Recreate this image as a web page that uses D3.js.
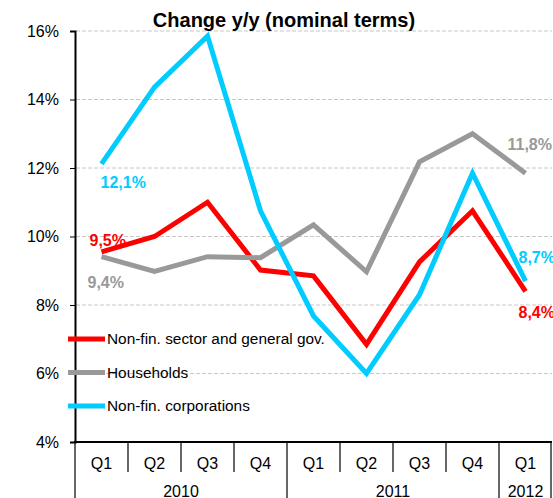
<!DOCTYPE html>
<html>
<head>
<meta charset="utf-8">
<script src="https://cdn.jsdelivr.net/npm/d3@7"></script>
<style>
  body { margin: 0; background: #fff; }
  text { font-family: "Liberation Sans", Arial, sans-serif; }
</style>
</head>
<body>
<div id="chart"></div>
<script>
// data
let quarters = ["Q1", "Q2", "Q3", "Q4", "Q1", "Q2", "Q3", "Q4", "Q1"];
let years = [
    {year: "2010", from: 0, to: 4},
    {year: "2011", from: 4, to: 8},
    {year: "2012", from: 8, to: 9}
];
let nonFinSector = [9.55, 10.0, 11.0, 9.02, 8.85, 6.85, 9.26, 10.75, 8.4];
let households = [9.41, 8.98, 9.41, 9.38, 10.34, 8.97, 12.18, 13.0, 11.85];
let corporations = [12.12, 14.36, 15.85, 10.75, 7.68, 6.0, 8.3, 11.85, 8.7];
let yTicks = [4, 6, 8, 10, 12, 14, 16];

let series = [
    {name: "Non-fin. sector and general gov.", values: nonFinSector, color: "#ff0000",
     labels: [{i: 0, text: "9,5%", dx: -12, dy: -12}, {i: 8, text: "8,4%", dx: -7, dy: 21}]},
    {name: "Households", values: households, color: "#999999",
     labels: [{i: 0, text: "9,4%", dx: -14, dy: 26}, {i: 8, text: "11,8%", dx: -18, dy: -29}]},
    {name: "Non-fin. corporations", values: corporations, color: "#00ccff",
     labels: [{i: 0, text: "12,1%", dx: -1, dy: 19}, {i: 8, text: "8,7%", dx: -7, dy: -24}]}
];

let svgWidth = 553;
let svgHeight = 498;

let svg = d3.select("#chart")
    .append("svg")
    .attr("width", svgWidth)
    .attr("height", svgHeight);

let x = d3.scaleBand()
    .domain(d3.range(quarters.length))
    .range([75, 552])
    .padding(0);

let y = d3.scaleLinear()
    .domain([4, 16])
    .range([442, 31]);

// gridlines
svg.append("g")
    .selectAll("line")
    .data(yTicks.filter(d => d > 4))
    .enter()
    .append("line")
    .attr("x1", 76)
    .attr("x2", 552)
    .attr("y1", d => y(d))
    .attr("y2", d => y(d))
    .attr("stroke", "#c8c8c8")
    .attr("stroke-dasharray", "4,2")
    .attr("stroke-width", 1);

// y axis
let yAxis = d3.axisLeft(y)
    .tickValues(yTicks)
    .tickSize(5)
    .tickPadding(11)
    .tickFormat(d => d + "%");

let yG = svg.append("g")
    .attr("transform", "translate(75,0)")
    .call(yAxis);
yG.select(".domain").attr("stroke", "#000").attr("stroke-width", 2);
yG.selectAll(".tick line").attr("stroke", "#000");
yG.selectAll(".tick text")
    .attr("font-size", "16px")
    .attr("fill", "#000")
    .attr("font-family", "Liberation Sans, Arial, sans-serif");

// x axis baseline
svg.append("line")
    .attr("x1", 74)
    .attr("x2", 552)
    .attr("y1", y(4))
    .attr("y2", y(4))
    .attr("stroke", "#000")
    .attr("stroke-width", 2);

// quarter dividers
svg.append("g")
    .selectAll("line")
    .data(d3.range(quarters.length + 1))
    .enter()
    .append("line")
    .attr("x1", d => d < quarters.length ? x(d) : x.range()[1] - 1)
    .attr("x2", d => d < quarters.length ? x(d) : x.range()[1] - 1)
    .attr("y1", y(4))
    .attr("y2", d => years.some(yr => yr.from === d || yr.to === d) ? 498 : 472)
    .attr("stroke", "#000")
    .attr("stroke-width", 1.2);

svg.append("g")
    .selectAll("text")
    .data(quarters)
    .enter()
    .append("text")
    .attr("x", (d, i) => x(i) + x.bandwidth() / 2)
    .attr("y", 463)
    .attr("dy", "0.35em")
    .attr("text-anchor", "middle")
    .attr("font-size", "16px")
    .text(d => d);

svg.append("g")
    .selectAll("text")
    .data(years)
    .enter()
    .append("text")
    .attr("x", d => (x(d.from) + (d.to < quarters.length ? x(d.to) : x.range()[1])) / 2)
    .attr("y", 497)
    .attr("text-anchor", "middle")
    .attr("font-size", "16px")
    .text(d => d.year);

// lines
let line = d3.line()
    .x((d, i) => x(i) + x.bandwidth() / 2)
    .y(d => y(d));

svg.append("g")
    .selectAll("path")
    .data(series)
    .enter()
    .append("path")
    .attr("d", d => line(d.values))
    .attr("fill", "none")
    .attr("stroke", d => d.color)
    .attr("stroke-width", 5)
    .attr("stroke-linejoin", "miter");

// value labels
series.forEach(s => {
    svg.append("g")
        .selectAll("text")
        .data(s.labels)
        .enter()
        .append("text")
        .attr("x", d => x(d.i) + x.bandwidth() / 2 + d.dx)
        .attr("y", d => y(s.values[d.i]) + d.dy)
        .attr("dy", "0.35em")
        .attr("font-size", "16px")
        .attr("font-weight", "bold")
        .attr("fill", s.color)
        .text(d => d.text);
});

// legend
let legend = svg.append("g")
    .selectAll("g")
    .data(series)
    .enter()
    .append("g")
    .attr("transform", (d, i) => `translate(68, ${339 + i * 33.5})`);

legend.append("line")
    .attr("x1", 0)
    .attr("x2", 37)
    .attr("stroke", d => d.color)
    .attr("stroke-width", 5);

legend.append("text")
    .attr("x", 39)
    .attr("dy", "0.35em")
    .attr("font-size", "15.4px")
    .attr("fill", "#000")
    .text(d => d.name);

// title
svg.append("text")
    .attr("x", 284)
    .attr("y", 27)
    .attr("text-anchor", "middle")
    .attr("font-size", "20px")
    .attr("font-weight", "bold")
    .text("Change y/y (nominal terms)");
</script>
</body>
</html>
